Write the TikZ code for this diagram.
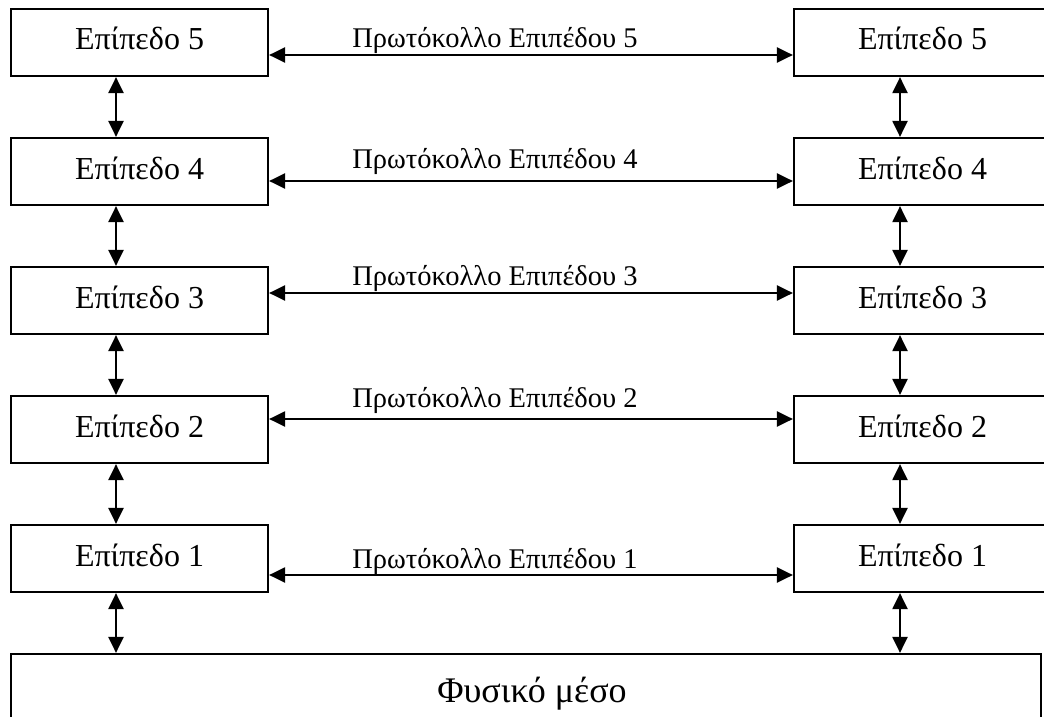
\documentclass[tikz,border=0pt]{standalone}
\usepackage{fontspec}
\setmainfont{Liberation Serif}
\usetikzlibrary{arrows.meta}
\begin{document}
\begin{tikzpicture}[x=1pt,y=-1pt,
  layer/.style={draw,line width=2.2pt,rectangle,inner sep=0pt,
    minimum width=257pt,minimum height=67pt,
    font=\fontsize{32}{36}\selectfont,text height=22pt,text depth=7pt},
  medium/.style={draw,line width=2.2pt,rectangle,inner sep=0pt,
    minimum width=1030pt,minimum height=64pt},
  proto/.style={anchor=base,inner sep=0pt,font=\fontsize{28.5}{32}\selectfont},
  link/.style={line width=2.2pt,{Triangle[length=16pt,width=15pt]}-{Triangle[length=16pt,width=15pt]}}]
\useasboundingbox (0,0) rectangle (1044,717);
\clip (0,0) rectangle (1044,717);

% protocol stacks on both sides
\foreach \i/\yc in {5/42.5,4/171.5,3/300.5,2/429.5,1/558.5}{
  \node[layer] (L\i) at (139.5,\yc) {Επίπεδο \i};
  \node[layer] (R\i) at (922.5,\yc) {Επίπεδο \i};
}

% shared physical medium
\node[medium] (M) at (526,686) {};
\node[inner sep=0pt,anchor=base,font=\fontsize{36}{40}\selectfont] (Mt) at (532,702) {Φυσικό μέσο};

% vertical interfaces between adjacent layers
\foreach \a/\b in {5/4,4/3,3/2,2/1}{
  \draw[link] ([xshift=-23.5pt]L\a.south) -- ([xshift=-23.5pt]L\b.north);
  \draw[link] ([xshift=-22.5pt]R\a.south) -- ([xshift=-22.5pt]R\b.north);
}
\draw[link] ([xshift=-23.5pt]L1.south) -- ([xshift=-23.5pt]L1.south |- M.north);
\draw[link] ([xshift=-22.5pt]R1.south) -- ([xshift=-22.5pt]R1.south |- M.north);

% peer protocols
\foreach \i/\dy/\by in {5/12.5/48,4/9.5/168,3/-7.5/285,2/-10.5/407,1/16.5/568}{
  \draw[link] ([yshift=-\dy pt]L\i.east) -- ([yshift=-\dy pt]R\i.west);
  \node[proto] (P\i) at (495,\by) {Πρωτόκολλο Επιπέδου \i};
}
\end{tikzpicture}
\end{document}
